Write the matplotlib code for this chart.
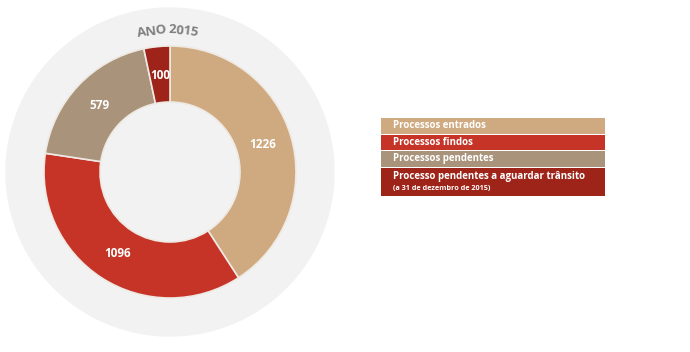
import numpy as np
import matplotlib.pyplot as plt

# ---- data ----
categorias = ['Processos entrados', 'Processos findos', 'Processos pendentes',
              'Processo pendentes a aguardar trânsito']
nota = '(a 31 de dezembro de 2015)'
valores = [1226, 1096, 579, 100]
cores = ['#CFAA80', '#C63427', '#A9937A', '#9E2318']
titulo = 'ANO 2015'

W, H = 690, 352
plt.rcParams['font.family'] = ['Open Sans', 'DejaVu Sans']

fig = plt.figure(figsize=(W / 100, H / 100), dpi=100)
ax = fig.add_axes([0, 0, 1, 1])

cx, cy = 170, H - 172
r_out, r_in = 126, 70

# grey background disc
ax.add_patch(plt.Circle((cx, cy), 164, color='#F2F2F2', zorder=0))

wedges, _ = ax.pie(valores, colors=cores, startangle=90, counterclock=False,
                   radius=r_out, center=(cx, cy),
                   wedgeprops=dict(width=r_out - r_in, edgecolor='#EFE9E3', linewidth=1.2))

# values on the wedges
for w, v in zip(wedges, valores):
    ang = np.deg2rad((w.theta1 + w.theta2) / 2)
    rm = 97
    ax.text(cx + rm * np.cos(ang), cy + rm * np.sin(ang), str(v), color='white',
            fontsize=8.5, fontweight='bold', ha='center', va='center')

# curved title
fig.canvas.draw()
rend = fig.canvas.get_renderer()
r_t = 142
larg = []
for ch in titulo:
    t = ax.text(0, 0, ch if ch != ' ' else 'n', fontsize=9.5, fontweight='bold')
    bb = t.get_window_extent(renderer=rend)
    larg.append(bb.width * (0.5 if ch == ' ' else 0.9))
    t.remove()
total = sum(larg)
ang0 = np.pi / 2 + (total / 2) / r_t + 0.02
pos = 0
for ch, lw in zip(titulo, larg):
    a = ang0 - (pos + lw / 2) / r_t
    pos += lw
    if ch == ' ':
        continue
    ax.text(cx + r_t * np.cos(a), cy + r_t * np.sin(a), ch, color='#808080',
            fontsize=9.5, fontweight='bold', ha='center', va='center',
            rotation=np.rad2deg(a - np.pi / 2), rotation_mode='anchor')

# legend boxes
x0, x1 = 381, 605
linhas = [(118, 134), (135, 150), (151, 167), (168, 196)]
for (y0, y1), cat, c in zip(linhas, categorias, cores):
    ax.add_patch(plt.Rectangle((x0, H - y1), x1 - x0, y1 - y0, color=c, lw=0))
    ytxt = (y0 + y1) / 2 if y1 - y0 < 20 else y0 + 8
    ax.text(393, H - ytxt, cat, color='white', fontsize=7, fontweight='bold',
            va='center', ha='left')
ax.text(393, H - 188.5, nota, color='white', fontsize=5.2, fontweight='bold',
        va='center', ha='left')

ax.set_xlim(0, W)
ax.set_ylim(0, H)
ax.set_aspect('equal')
ax.axis('off')

fig.savefig('out.png', dpi=100, facecolor='white')
